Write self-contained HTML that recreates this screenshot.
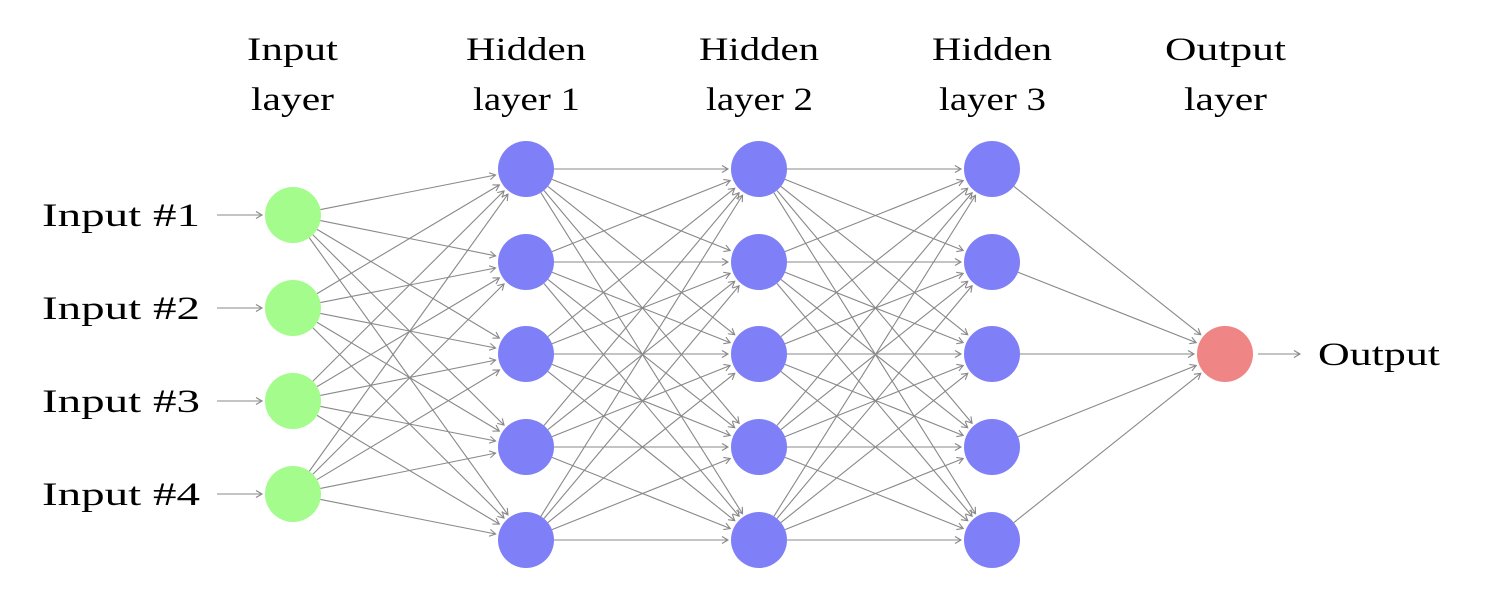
<!DOCTYPE html>
<html><head><meta charset="utf-8"><style>
html,body{margin:0;padding:0;background:#fff;}
svg{display:block;}
text{font-family:"Liberation Serif",serif;font-size:33px;fill:#000;}
</style></head><body>
<svg id="s" width="1488" height="598" xmlns="http://www.w3.org/2000/svg">
<defs><marker id="a" markerWidth="10" markerHeight="10" refX="8" refY="5" orient="auto" markerUnits="userSpaceOnUse"><path d="M2,1.5 L8,5 L2,8.5" fill="none" stroke="#888" stroke-width="1.1"/></marker></defs>
<g id="L" stroke="#888" stroke-width="1.1" fill="none"></g>
<g id="N"></g>
<g lengthAdjust="spacingAndGlyphs">
<text x="247" y="60" textLength="91" lengthAdjust="spacingAndGlyphs">Input</text><text x="251" y="110" textLength="83" lengthAdjust="spacingAndGlyphs">layer</text>
<text x="466" y="60" textLength="120" lengthAdjust="spacingAndGlyphs">Hidden</text><text x="473" y="110" textLength="107" lengthAdjust="spacingAndGlyphs">layer 1</text>
<text x="699" y="60" textLength="120" lengthAdjust="spacingAndGlyphs">Hidden</text><text x="706" y="110" textLength="107" lengthAdjust="spacingAndGlyphs">layer 2</text>
<text x="932" y="60" textLength="120" lengthAdjust="spacingAndGlyphs">Hidden</text><text x="939" y="110" textLength="107" lengthAdjust="spacingAndGlyphs">layer 3</text>
<text x="1165" y="60" textLength="121" lengthAdjust="spacingAndGlyphs">Output</text><text x="1184" y="110" textLength="83" lengthAdjust="spacingAndGlyphs">layer</text>
<text x="42" y="226" textLength="158" lengthAdjust="spacingAndGlyphs">Input #1</text>
<text x="42" y="319" textLength="158" lengthAdjust="spacingAndGlyphs">Input #2</text>
<text x="42" y="412" textLength="158" lengthAdjust="spacingAndGlyphs">Input #3</text>
<text x="42" y="505" textLength="158" lengthAdjust="spacingAndGlyphs">Input #4</text>
<text x="1318" y="365" textLength="122" lengthAdjust="spacingAndGlyphs">Output</text>
</g>
</svg>
<script>
var ns="http://www.w3.org/2000/svg",L=document.getElementById("L"),N=document.getElementById("N");
var R=28;
var layers=[[293,[215,308,401,494],"#a3fc8b"],[526,[169,262,354,447,540],"#7f7ff7"],[759,[169,262,354,447,540],"#7f7ff7"],[992,[169,262,354,447,540],"#7f7ff7"],[1225,[354],"#f08585"]];
function line(x1,y1,x2,y2){var l=document.createElementNS(ns,"line");l.setAttribute("x1",x1);l.setAttribute("y1",y1);l.setAttribute("x2",x2);l.setAttribute("y2",y2);l.setAttribute("marker-end","url(#a)");L.appendChild(l);}
for(var i=0;i<layers.length-1;i++){var A=layers[i],B=layers[i+1];
A[1].forEach(function(ya){B[1].forEach(function(yb){var dx=B[0]-A[0],dy=yb-ya,d=Math.sqrt(dx*dx+dy*dy),ux=dx/d,uy=dy/d;
line(A[0]+ux*R,ya+uy*R,B[0]-ux*(R+3),yb-uy*(R+3));});});}
[215,308,401,494].forEach(function(y){line(217,y,262,y);});
line(1258,354,1300,354);
layers.forEach(function(A){A[1].forEach(function(y){var c=document.createElementNS(ns,"circle");c.setAttribute("cx",A[0]);c.setAttribute("cy",y);c.setAttribute("r",R);c.setAttribute("fill",A[2]);N.appendChild(c);});});
</script>
</body></html>
